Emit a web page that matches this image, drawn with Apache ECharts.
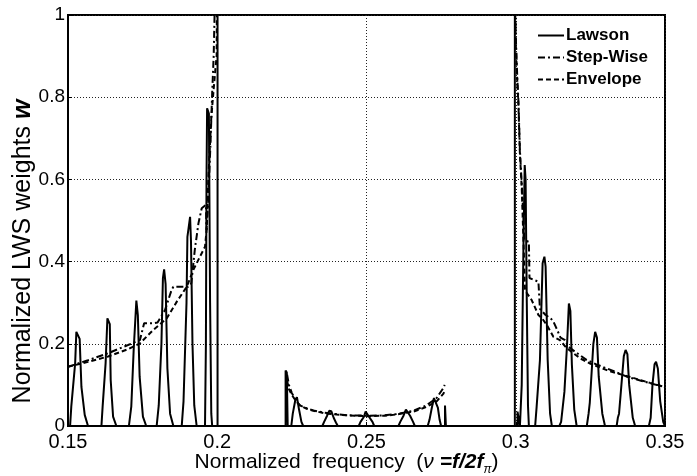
<!DOCTYPE html>
<html>
<head>
<meta charset="utf-8">
<script src="https://cdn.jsdelivr.net/npm/echarts@6/dist/echarts.min.js"></script>
<style>
  html, body { margin: 0; padding: 0; background: #fff; }
  #chart { width: 697px; height: 476px; }
</style>
</head>
<body>
<div id="chart"></div>
<script>
// tick labels
const xTicks = ['0.15', '0.2', '0.25', '0.3', '0.35'];
const yTicks = ['0', '0.2', '0.4', '0.6', '0.8', '1'];

// Lawson weights [frequency, weight], three bands
const lawsonLeft = [
  [0.1500, 0], [0.1507, 0], [0.1511, 0.047], [0.1524, 0.153], [0.1528, 0.229], [0.1531, 0.225], [0.1539, 0.212], [0.1545, 0.095], [0.1556, 0.027], [0.1567, 0],
  [0.1612, 0], [0.1616, 0.047], [0.1626, 0.153], [0.1632, 0.262], [0.1640, 0.248], [0.1643, 0.112], [0.1651, 0.023], [0.1662, 0],
  [0.1704, 0], [0.1712, 0.047], [0.1720, 0.185], [0.1729, 0.305], [0.1734, 0.27], [0.1740, 0.12], [0.1751, 0.023], [0.1762, 0],
  [0.1797, 0], [0.1804, 0.05], [0.1813, 0.2], [0.1818, 0.36], [0.1822, 0.381], [0.1827, 0.345], [0.1833, 0.14], [0.1842, 0.03], [0.1853, 0],
  [0.1881, 0], [0.1887, 0.06], [0.1897, 0.3], [0.1900, 0.46], [0.1909, 0.509], [0.1912, 0.45], [0.1917, 0.2], [0.1923, 0.05], [0.1931, 0],
  [0.1959, 0], [0.1962, 0.2], [0.1964, 0.6], [0.1966, 0.773], [0.1972, 0.76], [0.1976, 0.3], [0.1980, 0.03], [0.1983, 0],
  [0.2001, 0], [0.2001, 1.2]
];
const lawsonMid = [
  [0.2229, 0], [0.2229, 0.135], [0.2233, 0.13], [0.2236, 0], [0.2248, 0], [0.2253, 0.03], [0.2262, 0.065], [0.2267, 0.07], [0.2274, 0.04], [0.2282, 0.01], [0.2288, 0],
  [0.2352, 0], [0.2358, 0.01], [0.2368, 0.025], [0.2375, 0.037], [0.2382, 0.036], [0.2390, 0.02], [0.2398, 0.008], [0.2404, 0],
  [0.2474, 0], [0.2480, 0.01], [0.2491, 0.022], [0.2497, 0.035], [0.2503, 0.035], [0.2509, 0.022], [0.2520, 0.01], [0.2526, 0],
  [0.2607, 0], [0.2613, 0.01], [0.2624, 0.025], [0.2632, 0.04], [0.2638, 0.04], [0.2646, 0.025], [0.2656, 0.01], [0.2662, 0],
  [0.2705, 0], [0.2711, 0.015], [0.2719, 0.045], [0.2726, 0.068], [0.2732, 0.068], [0.2739, 0.045], [0.2745, 0.015], [0.2750, 0],
  [0.2763, 0], [0.2763, 0.05], [0.2766, 0.05], [0.2766, 0]
];
const lawsonRight = [
  [0.2997, 1.2], [0.2997, 0], [0.3006, 0], [0.3006, 0.035], [0.3012, 0.035], [0.3014, 0],
  [0.3020, 0.1], [0.3026, 0.45], [0.3030, 0.635], [0.3033, 0.6], [0.3037, 0.3], [0.3041, 0.05], [0.3044, 0],
  [0.3065, 0], [0.3070, 0.047], [0.3081, 0.16], [0.3090, 0.396], [0.3096, 0.412], [0.3100, 0.388], [0.3107, 0.16], [0.3115, 0.03], [0.3121, 0],
  [0.3146, 0], [0.3152, 0.01], [0.3163, 0.083], [0.3167, 0.083], [0.3172, 0.2], [0.3178, 0.298], [0.3183, 0.28], [0.3188, 0.15], [0.3196, 0.04], [0.3204, 0],
  [0.3238, 0], [0.3244, 0.03], [0.3248, 0.056], [0.3251, 0.056], [0.3260, 0.2], [0.3266, 0.229], [0.3272, 0.215], [0.3278, 0.12], [0.3290, 0.03], [0.3299, 0],
  [0.3338, 0], [0.3342, 0.02], [0.3346, 0.03], [0.3350, 0.03], [0.3362, 0.17], [0.3368, 0.185], [0.3374, 0.175], [0.3380, 0.1], [0.3392, 0.02], [0.3400, 0],
  [0.3446, 0], [0.3452, 0.02], [0.3458, 0.1], [0.3465, 0.15], [0.3470, 0.156], [0.3476, 0.14], [0.3484, 0.06], [0.3494, 0.01], [0.3500, 0]
];

// Step-wise weights
const stepLeft = [
  [0.1500, 0.144], [0.1567, 0.16], [0.1634, 0.177], [0.1701, 0.197], [0.1741, 0.209], [0.1755, 0.25], [0.1786, 0.25], [0.1800, 0.252],
  [0.1825, 0.282], [0.1847, 0.331], [0.1853, 0.339], [0.1903, 0.339], [0.1913, 0.347], [0.1925, 0.43], [0.1937, 0.493], [0.1948, 0.53],
  [0.1962, 0.538], [0.1964, 0.477], [0.1970, 0.55], [0.1978, 0.7], [0.1983, 0.81], [0.1988, 0.9], [0.1991, 1.0], [0.1993, 1.2]
];
const stepMid = [
  [0.2234, 0.125], [0.2240, 0.10], [0.2250, 0.08], [0.2265, 0.06], [0.2277, 0.05], [0.2300, 0.043], [0.2322, 0.038], [0.2360, 0.032],
  [0.2400, 0.029], [0.2434, 0.026], [0.2500, 0.025], [0.2560, 0.026], [0.2600, 0.029], [0.2657, 0.037], [0.2700, 0.05], [0.2735, 0.068],
  [0.2757, 0.092], [0.2762, 0.1]
];
const stepRight = [
  [0.2994, 1.2], [0.3000, 0.95], [0.3005, 0.85], [0.3009, 0.79], [0.3014, 0.67], [0.3020, 0.59], [0.3025, 0.52], [0.3029, 0.452],
  [0.3044, 0.448], [0.3046, 0.36], [0.3076, 0.351], [0.3081, 0.285], [0.3100, 0.27], [0.3115, 0.263], [0.3125, 0.256], [0.3135, 0.24],
  [0.3150, 0.215], [0.3165, 0.209], [0.3176, 0.193], [0.3200, 0.18], [0.3237, 0.161], [0.3270, 0.15], [0.3305, 0.14], [0.3340, 0.13],
  [0.3372, 0.12], [0.3420, 0.11], [0.3460, 0.102], [0.3500, 0.095]
];

// Envelope weights
const envLeft = [
  [0.1500, 0.144], [0.1567, 0.156], [0.1634, 0.169], [0.1701, 0.187], [0.1741, 0.201], [0.1786, 0.234], [0.1831, 0.262], [0.1864, 0.302],
  [0.1898, 0.339], [0.1920, 0.38], [0.1942, 0.412], [0.1959, 0.436], [0.1965, 0.482], [0.1970, 0.6], [0.1980, 0.75], [0.1988, 0.82],
  [0.1994, 0.87], [0.1998, 0.9], [0.2000, 1.2]
];
const envMid = [
  [0.2234, 0.11], [0.2240, 0.09], [0.2250, 0.075], [0.2265, 0.06], [0.2277, 0.05], [0.2300, 0.042], [0.2322, 0.037], [0.2360, 0.031],
  [0.2400, 0.028], [0.2434, 0.026], [0.2500, 0.024], [0.2560, 0.025], [0.2600, 0.028], [0.2657, 0.035], [0.2700, 0.046], [0.2735, 0.06],
  [0.2757, 0.078], [0.2762, 0.085]
];
const envRight = [
  [0.2994, 1.2], [0.3000, 0.93], [0.3005, 0.84], [0.3009, 0.78], [0.3014, 0.66], [0.3020, 0.58], [0.3025, 0.47], [0.3031, 0.33],
  [0.3053, 0.307], [0.3076, 0.27], [0.3090, 0.26], [0.3104, 0.246], [0.3126, 0.217], [0.3148, 0.209], [0.3170, 0.19], [0.3193, 0.177],
  [0.3220, 0.163], [0.3249, 0.152], [0.3280, 0.143], [0.3305, 0.136], [0.3330, 0.13], [0.3360, 0.124], [0.3390, 0.118], [0.3416, 0.112],
  [0.3450, 0.105], [0.3494, 0.096], [0.3500, 0.095]
];

const font = 'Arial, "Liberation Sans", sans-serif';

function seg(name, data, dash) {
  return {
    name: name,
    type: 'line',
    data: data,
    symbol: 'none',
    clip: true,
    animation: false,
    itemStyle: { color: '#000' },
    lineStyle: { color: '#000', width: 2, type: dash }
  };
}

const chart = echarts.init(document.getElementById('chart'));
chart.setOption({
  animation: false,
  grid: {
    left: 68, right: 32, top: 15, bottom: 50,
    outerBoundsMode: 'none',
    show: true, borderColor: '#000', borderWidth: 2
  },
  legend: {
    orient: 'vertical',
    left: 537, top: 27,
    itemWidth: 26, itemHeight: 14, itemGap: 5,
    backgroundColor: '#fff',
    padding: 0,
    itemStyle: { opacity: 0 },
    textStyle: { fontFamily: font, fontSize: 17, fontWeight: 'bold', color: '#000', lineHeight: 17, padding: [0, 0, 0, -3] },
    data: ['Lawson', 'Step-Wise', 'Envelope']
  },
  xAxis: {
    type: 'value',
    min: 0.15, max: 0.35, interval: 0.05,
    axisLine: { lineStyle: { color: '#000', width: 2 } },
    axisTick: { inside: true, length: 4, lineStyle: { color: '#000' } },
    axisLabel: {
      margin: 6, color: '#000', fontFamily: font, fontSize: 20,
      formatter: function (v) { return xTicks[Math.round((v - 0.15) / 0.05)]; }
    },
    splitLine: { show: true, lineStyle: { color: '#222', type: [1, 2], width: 1 } },
    name: '{n|Normalized  frequency  (}{i|\u03bd }{b|=f/2f}{s|\u03c0}{n|)}',
    nameLocation: 'middle',
    nameMoveOverlap: false,
    nameGap: 22,
    nameTextStyle: {
      padding: [0, 40, 0, 0],
      rich: {
        n: { fontFamily: font, fontSize: 21, color: '#000' },
        i: { fontFamily: font, fontSize: 21, fontStyle: 'italic', color: '#000' },
        b: { fontFamily: font, fontSize: 21, fontStyle: 'italic', fontWeight: 'bold', color: '#000' },
        s: { fontFamily: font, fontSize: 12, fontStyle: 'italic', color: '#000', padding: [16, 0, 0, 0] }
      }
    }
  },
  yAxis: {
    type: 'value',
    min: 0, max: 1, interval: 0.2,
    axisLine: { lineStyle: { color: '#000', width: 2 } },
    axisTick: { inside: true, length: 4, lineStyle: { color: '#000' } },
    axisLabel: {
      margin: 3, color: '#000', fontFamily: font, fontSize: 19,
      formatter: function (v) { return yTicks[Math.round(v / 0.2)]; }
    },
    splitLine: { show: true, lineStyle: { color: '#222', type: [1, 2], width: 1 } },
    name: '{n|Normalized LWS weights }{b|w}',
    nameLocation: 'middle',
    nameMoveOverlap: false,
    nameGap: 32,
    nameRotate: 90,
    nameTextStyle: {
      padding: [0, 62, 0, 0],
      rich: {
        n: { fontFamily: font, fontSize: 25, color: '#000' },
        b: { fontFamily: font, fontSize: 25, fontStyle: 'italic', fontWeight: 'bold', color: '#000' }
      }
    }
  },
  series: [
    seg('Lawson', lawsonLeft, 'solid'),
    seg('Lawson', lawsonMid, 'solid'),
    seg('Lawson', lawsonRight, 'solid'),
    seg('Step-Wise', stepLeft, [7, 3, 2, 3]),
    seg('Step-Wise', stepMid, [7, 3, 2, 3]),
    seg('Step-Wise', stepRight, [7, 3, 2, 3]),
    seg('Envelope', envLeft, [5, 3]),
    seg('Envelope', envMid, [5, 3]),
    seg('Envelope', envRight, [5, 3])
  ]
});
</script>
</body>
</html>
